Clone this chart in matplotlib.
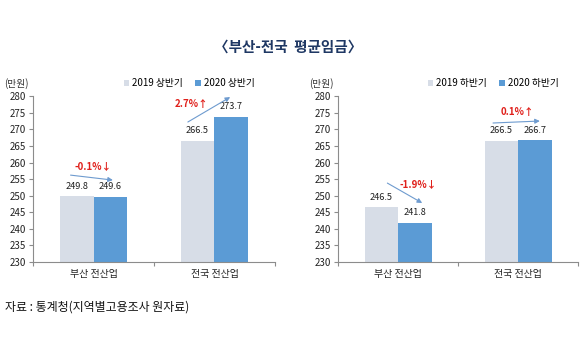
import numpy as np
import matplotlib.pyplot as plt

plt.rcParams['font.family'] = ['Noto Sans CJK KR', 'DejaVu Sans']

categories = ['부산 전산업', '전국 전산업']
first_2019 = [249.8, 266.5]
first_2020 = [249.6, 273.7]
second_2019 = [246.5, 266.5]
second_2020 = [241.8, 266.7]
first_labels = ['2019 상반기', '2020 상반기']
second_labels = ['2019 하반기', '2020 하반기']
first_change = ['-0.1%↓', '2.7%↑']
second_change = ['-1.9%↓', '0.1%↑']
yticks = np.arange(230, 281, 5)

light = '#D7DDE7'
blue = '#5B9BD5'
red = '#E0201B'
arrow_c = '#6E9BCF'
spine_c = '#8C8C8C'

fig = plt.figure(figsize=(5.8, 3.6), dpi=100)
fig.patch.set_facecolor('white')

ax1 = fig.add_axes([0.057, 0.272, 0.417, 0.461])
ax2 = fig.add_axes([0.583, 0.272, 0.414, 0.461])


def draw_panel(ax, v19, v20, labels):
    x = np.arange(len(categories))
    w = 0.28
    b1 = ax.bar(x - w / 2, np.array(v19) - 230, w, bottom=230, color=light, label=labels[0])
    b2 = ax.bar(x + w / 2, np.array(v20) - 230, w, bottom=230, color=blue, label=labels[1])
    for bars, vals in ((b1, v19), (b2, v20)):
        for rect, v in zip(bars, vals):
            ax.annotate(f'{v:.1f}', (rect.get_x() + rect.get_width() / 2, v),
                        xytext=(0, 4), textcoords='offset points',
                        ha='center', va='bottom', fontsize=6.6, color='#222222')
    ax.set_xlim(-0.5, 1.5)
    ax.set_ylim(230, 280)
    ax.set_yticks(yticks)
    ax.set_xticks([-0.5, 0.5, 1.5])
    ax.set_xticklabels([])
    for i, c in enumerate(categories):
        ax.text(i, 226.5, c, ha='center', va='center', fontsize=7.2, color='#222222')
    ax.tick_params(axis='y', labelsize=7, length=3, color=spine_c, pad=2, labelcolor='#222222')
    ax.tick_params(axis='x', length=3, color=spine_c)
    for s in ('top', 'right'):
        ax.spines[s].set_visible(False)
    for s in ('left', 'bottom'):
        ax.spines[s].set_color(spine_c)
        ax.spines[s].set_linewidth(0.8)
    ax.text(-0.07, 1.078, '(만원)', transform=ax.transAxes, ha='center', va='center',
            fontsize=7, color='#333333')
    ax.legend(ncol=2, loc='center', bbox_to_anchor=(0.645, 1.078), frameon=False,
              fontsize=7, handlelength=0.6, handleheight=0.6, handletextpad=0.3,
              columnspacing=1.2, borderaxespad=0, borderpad=0)


def arrow(ax, start, end):
    ax.annotate('', xy=end, xytext=start,
                arrowprops=dict(arrowstyle='-|>', color=arrow_c, lw=0.8,
                                mutation_scale=7, shrinkA=0, shrinkB=0))


def change_text(ax, pos, s):
    ax.text(pos[0], pos[1], s, ha='center', va='center', fontsize=7,
            fontweight='bold', color=red)


draw_panel(ax1, first_2019, first_2020, first_labels)
draw_panel(ax2, second_2019, second_2020, second_labels)

arrow(ax1, (-0.19, 256.2), (0.16, 254.7))
change_text(ax1, (0.0, 258.9), first_change[0])
arrow(ax1, (0.78, 272.2), (1.13, 279.7))
change_text(ax1, (0.81, 277.6), first_change[1])

arrow(ax2, (-0.09, 253.8), (0.2, 247.8))
change_text(ax2, (0.17, 253.5), second_change[0])
arrow(ax2, (0.79, 271.9), (1.18, 272.5))
change_text(ax2, (0.99, 275.2), second_change[1])

fig.text(0.497, 1 - 47 / 360, '〈부산-전국  평균임금〉', ha='center', va='center',
         fontsize=10.5, fontweight='bold', color='#1F3864')
fig.text(5 / 580, 1 - 307 / 360, '자료 : 통계청(지역별고용조사 원자료)', ha='left', va='center',
         fontsize=8.6, color='#111111')

fig.savefig('out.png', dpi=100)
